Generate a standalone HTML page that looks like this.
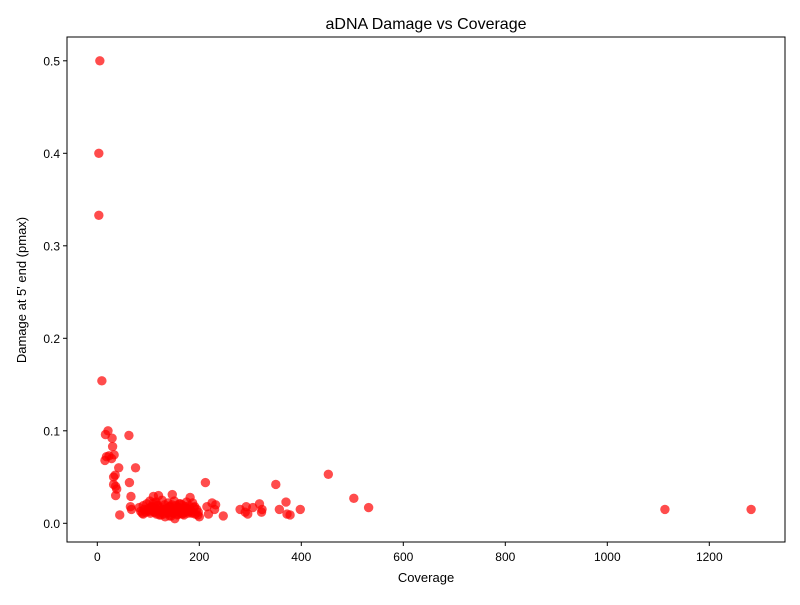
<!DOCTYPE html>
<html><head><meta charset="utf-8"><style>
body{margin:0;background:#fff;}
svg{font-family:"Liberation Sans","DejaVu Sans",sans-serif;}
</style></head><body>
<svg id="chart" width="800" height="600">
<rect width="800" height="600" fill="#fff"/>
<text x="426" y="29" text-anchor="middle" font-size="16">aDNA Damage vs Coverage</text>
<text x="426" y="582" text-anchor="middle" font-size="13">Coverage</text>
<text transform="translate(26,290) rotate(-90)" text-anchor="middle" font-size="13">Damage at 5' end (pmax)</text>
<g id="xticks"></g>
<g id="yticks"></g>
<g id="points"></g>
<rect x="67" y="37" width="718" height="505" fill="none" stroke="#000" stroke-width="1"/>
</svg>
<script>
const coverage=[5,3,3,9,16,21,18,23,28,29,30,33,32,35,32,36,38,36,42,44,15,62,63,75,66,65,67,
212,350,453,503,532,1113,1282,215,225,232,230,218,247,280,290,292,295,305,318,323,322,357,370,372,378,398,182,147,120,110,
82,85,88,90,92,95,97,100,102,104,106,108,110,112,114,116,118,120,122,124,126,128,130,132,134,136,138,140,142,144,146,148,150,152,154,156,158,160,162,164,166,168,170,172,174,176,178,180,183,186,189,192,195,198,200,
90,98,105,112,118,125,131,137,143,149,155,161,167,173,179,185,191,197,103,115,127,139,151,163,175,187,133,145,157,169];
const damage=[0.5,0.4,0.333,0.154,0.096,0.1,0.072,0.073,0.07,0.092,0.083,0.074,0.05,0.052,0.042,0.04,0.037,0.03,0.06,0.009,0.068,0.095,0.044,0.06,0.029,0.018,0.015,
0.044,0.042,0.053,0.027,0.017,0.015,0.015,0.018,0.022,0.02,0.015,0.01,0.008,0.015,0.012,0.018,0.01,0.017,0.021,0.015,0.012,0.015,0.023,0.01,0.009,0.015,0.028,0.031,0.03,0.029,
0.017,0.013,0.011,0.019,0.015,0.012,0.021,0.016,0.013,0.011,0.018,0.014,0.022,0.012,0.016,0.01,0.019,0.014,0.009,0.017,0.012,0.015,0.01,0.02,0.013,0.016,0.011,0.018,0.008,0.014,0.02,0.012,0.016,0.005,0.019,0.013,0.01,0.017,0.014,0.011,0.02,0.015,0.009,0.018,0.013,0.016,0.011,0.019,0.014,0.012,0.017,0.01,0.015,0.012,0.007,
0.01,0.014,0.017,0.012,0.02,0.009,0.015,0.012,0.018,0.011,0.014,0.021,0.01,0.016,0.013,0.011,0.018,0.009,0.024,0.023,0.025,0.022,0.024,0.021,0.023,0.022,0.007,0.008,0.009,0.011];
const xTickVals=[0,200,400,600,800,1000,1200];
const yTickVals=[0.0,0.1,0.2,0.3,0.4,0.5];
const NS="http://www.w3.org/2000/svg";
function xs(v){return 97.3+v*0.51;}
function ys(v){return 523.3-v*925;}
const xg=document.getElementById('xticks'),yg=document.getElementById('yticks'),pg=document.getElementById('points');
xTickVals.forEach(v=>{
 const l=document.createElementNS(NS,'line');
 
 
 l.setAttribute('x1',xs(v));l.setAttribute('x2',xs(v));l.setAttribute('y1',542);l.setAttribute('y2',546);l.setAttribute('stroke','#000');
 xg.appendChild(l);
 const t=document.createElementNS(NS,'text');
 
 
 t.setAttribute('x',xs(v));t.setAttribute('y',561);t.setAttribute('text-anchor','middle');t.setAttribute('font-size','12');
 t.textContent=v;xg.appendChild(t);
});
yTickVals.forEach(v=>{
 const l=document.createElementNS(NS,'line');
 
 
 l.setAttribute('x1',63);l.setAttribute('x2',67);l.setAttribute('y1',ys(v));l.setAttribute('y2',ys(v));l.setAttribute('stroke','#000');
 yg.appendChild(l);
 const t=document.createElementNS(NS,'text');
 
 
 t.setAttribute('x',60);t.setAttribute('y',ys(v)+4.5);t.setAttribute('text-anchor','end');t.setAttribute('font-size','12');
 t.textContent=v.toFixed(1);yg.appendChild(t);
});
coverage.forEach((c,i)=>{
 const p=document.createElementNS(NS,'circle');
 
 
 p.setAttribute('cx',xs(c));p.setAttribute('cy',ys(damage[i]));p.setAttribute('r',4.7);
 p.setAttribute('fill','red');p.setAttribute('fill-opacity','0.7');
 pg.appendChild(p);
});
</script>
</body></html>
